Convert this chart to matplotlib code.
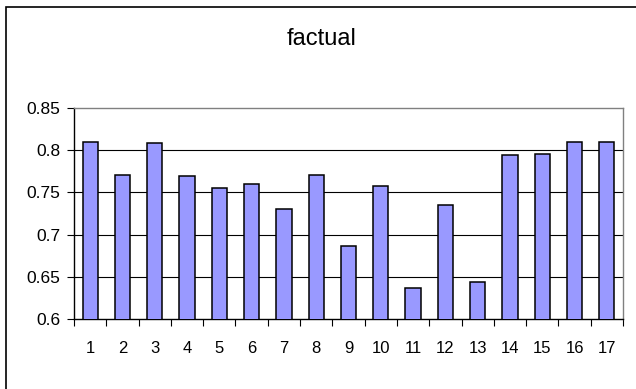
import matplotlib
matplotlib.use("Agg")
import matplotlib.pyplot as plt
from matplotlib.patches import Rectangle

plt.rcParams['font.family'] = ['Liberation Sans', 'DejaVu Sans']

categories = [str(i) for i in range(1, 18)]
values = [0.810, 0.771, 0.808, 0.769, 0.755, 0.760, 0.730, 0.771, 0.687,
          0.758, 0.637, 0.735, 0.644, 0.794, 0.796, 0.810, 0.810]
y_ticks = [0.6, 0.65, 0.7, 0.75, 0.8, 0.85]
y_labels = ["0.6", "0.65", "0.7", "0.75", "0.8", "0.85"]


def main():
    fig = plt.figure(figsize=(6.36, 3.89), dpi=100)
    ax = fig.add_axes([74 / 636, 1 - 319 / 389, 549 / 636, 211 / 389])

    # outer chart border (cropped at right and bottom like the original)
    fig.patches.append(Rectangle((6 / 636, -0.1), 1.2, 1 - 7 / 389 + 0.1,
                                 transform=fig.transFigure, fill=False,
                                 edgecolor='black', linewidth=1.2))

    x = range(len(categories))
    ax.bar(x, values, width=0.47, color='#9999FF', edgecolor='black',
           linewidth=1.1, zorder=3)

    ax.set_xlim(-0.5, len(categories) - 0.5)
    ax.set_ylim(0.6, 0.85)
    ax.set_yticks(y_ticks)
    ax.set_yticklabels(y_labels)
    ax.set_xticks(list(x))
    ax.set_xticklabels(categories)
    ax.set_xticks([i - 0.5 for i in range(len(categories) + 1)], minor=True)

    ax.tick_params(axis='x', which='major', length=0, pad=16, labelsize=12)
    ax.tick_params(axis='x', which='minor', length=5, width=0.8,
                   direction='out', color='black')
    ax.tick_params(axis='y', length=5, width=0.8, direction='out',
                   labelsize=12.5, pad=5)

    for yv in y_ticks[1:-1]:
        ax.axhline(yv, color='black', linewidth=0.8, zorder=1)

    ax.spines['left'].set_color('black')
    ax.spines['bottom'].set_color('black')
    ax.spines['top'].set_color('#808080')
    ax.spines['right'].set_color('#808080')
    for s in ax.spines.values():
        s.set_linewidth(1.0)

    fig.text(322 / 636, 1 - 39 / 389, "factual", ha='center', va='center',
             fontsize=17)

    fig.savefig("out.png", dpi=100)


if __name__ == "__main__":
    main()
